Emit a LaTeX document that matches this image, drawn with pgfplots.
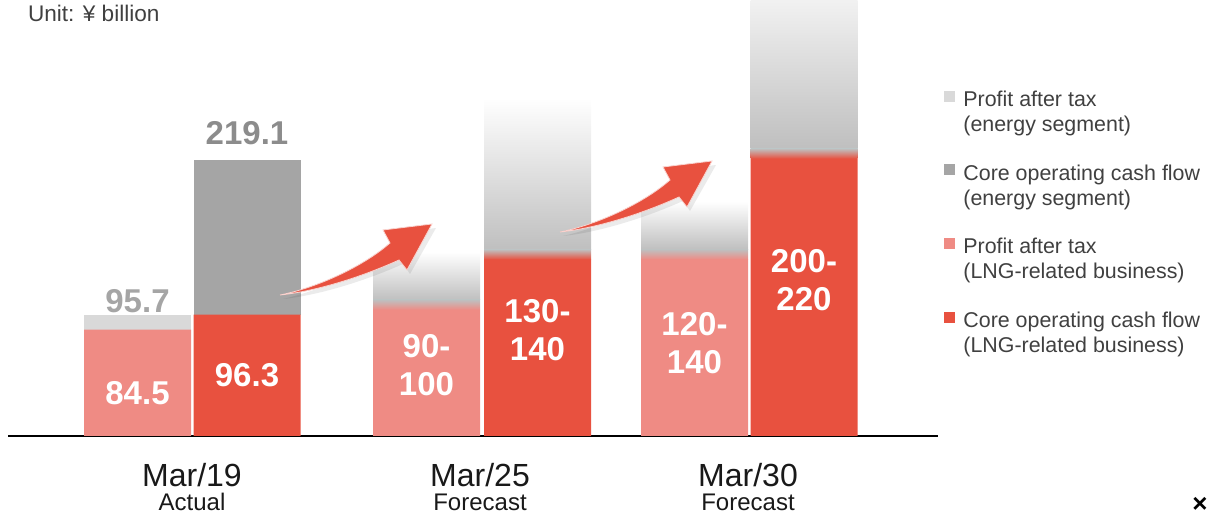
\documentclass[border=0pt]{standalone}
\usepackage{pgfplots}
\pgfplotsset{compat=1.18}
\usepackage{fontspec}
\setmainfont{Liberation Sans}

\definecolor{ltgray}{HTML}{D9D9D9}
\definecolor{dkgray}{HTML}{A5A5A5}
\definecolor{pinkbar}{HTML}{EF8B84}
\definecolor{redbar}{HTML}{E8513F}
\definecolor{fadegray}{HTML}{BFBFBF}
\definecolor{txtgray}{HTML}{404040}

% one pixel of the reference = 0.5pt; x is in pixels, y in yen billion
\pgfplotsset{
  frame/.style={
    scale only axis, width=465pt, height=218pt,
    at={(4pt,41pt)}, anchor=south west,
    xmin=8, xmax=938, ymin=0, ymax=346,
  },
}
\tikzset{vlabel/.style={align=center, font=\fontsize{16.5}{19}\selectfont\bfseries}}
% faded top of one forecast bar: x, solid top, bar colour, fade height
\newcommand\fadebar[4]{%
\begin{axis}[frame, hide axis, ybar stacked, bar width=107]
\addplot[draw=none, fill=none] coordinates {(#1,#2)};
\addplot[draw=none, bottom color=#3, top color=fadegray] coordinates {(#1,8)};
\addplot[draw=none, bottom color=fadegray, top color=white] coordinates {(#1,#4)};
\end{axis}}

\begin{document}
\begin{tikzpicture}
\useasboundingbox (0,0) rectangle (608pt,259pt);

\fadebar{426.5}{100}{pinkbar}{38}
\fadebar{694.5}{140}{pinkbar}{38}
\fadebar{537.5}{140}{redbar}{120}
\fadebar{804}{220}{redbar}{150}

\begin{axis}[frame, ybar stacked, bar width=107,
  axis x line*=bottom, axis y line=none,
  axis line style={black, line width=1.3pt},
  ytick=\empty,
  xtick={192,480,748}, major tick length=0pt,
  xticklabels={
    {\fontsize{16}{15}\selectfont Mar/19\\\fontsize{12}{15}\selectfont Actual},
    {\fontsize{16}{15}\selectfont Mar/25\\\fontsize{12}{15}\selectfont Forecast},
    {\fontsize{16}{15}\selectfont Mar/30\\\fontsize{12}{15}\selectfont Forecast}},
  xticklabel style={align=center, yshift=-10pt, text=black!90},
]
% LNG-related business, profit after tax
\addplot[fill=pinkbar, draw=none] coordinates {(137.5,84.5) (247,0) (426.5,100) (537.5,0) (694.5,140) (804,0)};
% LNG-related business, core operating cash flow
\addplot[fill=redbar, draw=none] coordinates {(137.5,0) (247,96.3) (426.5,0) (537.5,140) (694.5,0) (804,220)};
% energy segment, profit after tax (95.7 - 84.5)
\addplot[fill=ltgray, draw=none] coordinates {(137.5,11.2) (247,0) (426.5,0) (537.5,0) (694.5,0) (804,0)};
% energy segment, core operating cash flow (219.1 - 96.3)
\addplot[fill=dkgray, draw=none] coordinates {(137.5,0) (247,122.8) (426.5,0) (537.5,0) (694.5,0) (804,0)};
\end{axis}

% legend and value labels, on top of the bars
\begin{axis}[frame, hide axis,
  legend style={draw=none, fill=none, at={(axis description cs:1.0,0.81)},
    anchor=north west, font=\fontsize{10.7}{12.5}\selectfont, text=txtgray,
    row sep=11pt, cells={align=left}, nodes={inner xsep=4pt}},
  legend cell align=left,
  legend image code/.code={\fill[#1] (0pt,5.5pt) rectangle (5.5pt,11pt);},
]
\addlegendimage{fill=ltgray, draw=none}
\addlegendentry{Profit after tax\\ (energy segment)}
\addlegendimage{fill=dkgray, draw=none}
\addlegendentry{Core operating cash flow\\(energy segment)}
\addlegendimage{fill=pinkbar, draw=none}
\addlegendentry{Profit after tax\\(LNG-related business)}
\addlegendimage{fill=redbar, draw=none}
\addlegendentry{Core operating cash flow\\(LNG-related business)}

\node[vlabel, text=dkgray] at (axis cs:137.5,107) {95.7};
\node[vlabel, text=black!45] at (axis cs:247,240) {219.1};
\node[vlabel, text=white] at (axis cs:137.5,34) {84.5};
\node[vlabel, text=white] at (axis cs:247,48) {96.3};
\node[vlabel, text=white] at (axis cs:426.5,56) {90-\\100};
\node[vlabel, text=white] at (axis cs:537.5,84) {130-\\140};
\node[vlabel, text=white] at (axis cs:694.5,74) {120-\\140};
\node[vlabel, text=white] at (axis cs:804,124) {200-\\220};
\end{axis}

% growth arrows and loose text, in reference pixels
\begin{scope}[x=0.5pt, y=-0.5pt, yshift=259pt]
  \foreach \dx/\dy in {0/0, 280/-63} {
    \begin{scope}[shift={(\dx,\dy)}]
      \fill[black, opacity=0.08] (283,299) .. controls (323,290) and (368,268) .. (393,249)
        -- (386,234) -- (436,228) -- (410,274) -- (403,264)
        .. controls (358,284) and (313,296) .. cycle;
      \fill[redbar, draw=white!75!redbar, line width=0.4pt] (280,295) .. controls (320,287) and (365,265) .. (390,243)
        -- (383,230) -- (432,224) -- (407,270) -- (399,260)
        .. controls (355,280) and (310,292) .. cycle;
    \end{scope}
  }
  \node[anchor=west, text=txtgray, font=\fontsize{11.3}{13}\selectfont] at (21,13) {Unit: ¥ billion};
  \node[font=\fontsize{13}{13}\selectfont\bfseries, inner sep=0pt] at (1200,505) {×};
\end{scope}
\end{tikzpicture}
\end{document}
